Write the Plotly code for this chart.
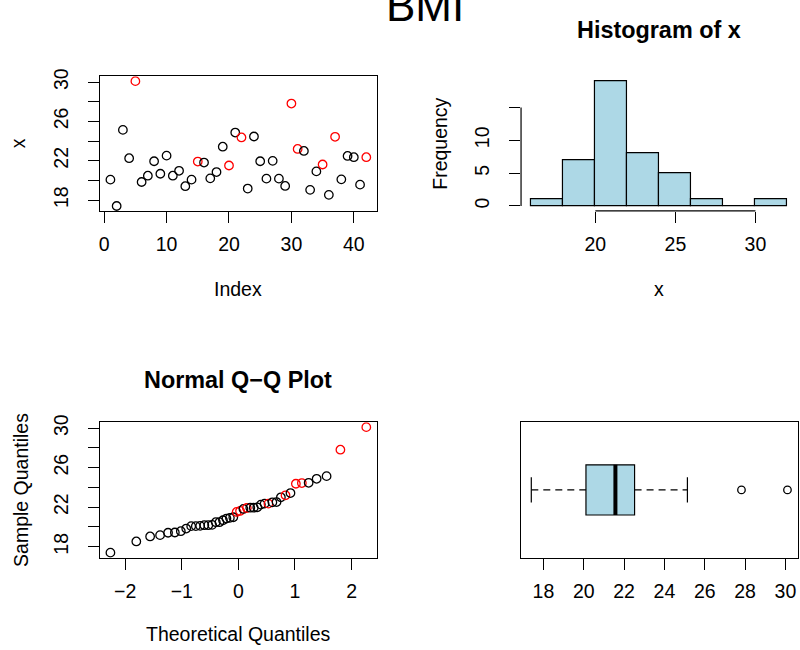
import numpy as np
import plotly.graph_objects as go
from statistics import NormalDist

# BMI measurements in recorded order
bmi = [20.08, 17.40, 25.14, 22.26, 30.10, 19.84, 20.48, 21.95, 20.68, 22.52,
       20.48, 20.98, 19.41, 20.08, 21.92, 21.82, 20.21, 20.85, 23.43, 21.52,
       24.87, 24.37, 19.17, 24.47, 21.95, 20.18, 21.99, 20.18, 19.44, 27.82,
       23.20, 23.00, 19.04, 20.92, 21.62, 18.53, 24.44, 20.11, 22.49, 22.36,
       19.57, 22.36]
# 1-based positions of the observations highlighted in red
flagged = [5, 15, 20, 22, 30, 31, 35, 37, 42]

hist_breaks = [16, 18, 20, 22, 24, 26, 28, 30, 32]
index_ticks = [0, 10, 20, 30, 40]
value_ticks = [18, 20, 22, 24, 26, 28, 30]
value_labels = ["18", "", "22", "", "26", "", "30"]
hist_x_ticks = [20, 25, 30]
hist_y_ticks = [0, 5, 10, 15]
hist_y_labels = ["0", "5", "10", ""]
qq_x_ticks = [-2, -1, 0, 1, 2]
box_ticks = [18, 20, 22, 24, 26, 28, 30]

FONT = "Liberation Sans, Arial, sans-serif"
TXT = 19.5
LIGHTBLUE = "#ADD8E6"
W, H = 800, 650


def r_range(lo, hi):
    d = (hi - lo) * 0.04
    return [lo - d, hi + d]


def fivenum(v):
    s = sorted(v)
    n = len(s)
    n4 = np.floor((n + 3) / 2) / 2
    d = [1, n4, (n + 1) / 2, n + 1 - n4, n]
    return [0.5 * (s[int(np.floor(k)) - 1] + s[int(np.ceil(k)) - 1]) for k in d]


x = np.array(bmi)
n = len(x)
idx = np.arange(1, n + 1)
colors = np.array(["red" if i in flagged else "black" for i in idx])

# histogram counts with right-closed bins
counts = np.zeros(len(hist_breaks) - 1, dtype=int)
for v in x:
    for j in range(len(hist_breaks) - 1):
        lo, hi = hist_breaks[j], hist_breaks[j + 1]
        if (lo < v <= hi) or (j == 0 and v == lo):
            counts[j] += 1
            break
mids = [(hist_breaks[j] + hist_breaks[j + 1]) / 2 for j in range(len(counts))]
widths = [hist_breaks[j + 1] - hist_breaks[j] for j in range(len(counts))]

# normal quantiles
order = np.argsort(x, kind="stable")
pp = [(i - 0.5) / n for i in range(1, n + 1)]
theo = np.array([NormalDist().inv_cdf(p) for p in pp])
samp = x[order]
qq_colors = colors[order]

# boxplot statistics
mn, q1, med, q3, mx = fivenum(bmi)
iqr = q3 - q1
inside = x[(x >= q1 - 1.5 * iqr) & (x <= q3 + 1.5 * iqr)]
w_lo, w_hi = inside.min(), inside.max()
outl = x[(x < q1 - 1.5 * iqr) | (x > q3 + 1.5 * iqr)]

# plot regions in pixels (left, right, top, bottom)
P1 = (99.3, 376.0, 69.0, 205.5)
P2 = (520.7, 797.7, 69.0, 205.5)
P3 = (99.3, 376.0, 419.3, 556.5)
P4 = (520.7, 797.7, 419.3, 556.5)


def xdom(p):
    return [p[0] / W, p[1] / W]


def ydom(p):
    return [1 - p[3] / H, 1 - p[2] / H]


fig = go.Figure()

marker_pts = dict(symbol="circle-open", size=8.5, line=dict(width=1.3))

fig.add_trace(go.Scatter(x=idx, y=x, mode="markers", xaxis="x", yaxis="y",
                         marker=dict(color=list(colors), **marker_pts),
                         showlegend=False, hoverinfo="skip"))
fig.add_trace(go.Bar(x=mids, y=counts, width=widths, xaxis="x2", yaxis="y2",
                     marker=dict(color=LIGHTBLUE, line=dict(color="black", width=1.2)),
                     showlegend=False, hoverinfo="skip"))
fig.add_trace(go.Scatter(x=theo, y=samp, mode="markers", xaxis="x3", yaxis="y3",
                         marker=dict(color=list(qq_colors), **marker_pts),
                         showlegend=False, hoverinfo="skip"))
fig.add_trace(go.Scatter(x=outl, y=[1] * len(outl), mode="markers", xaxis="x4", yaxis="y4",
                         marker=dict(color="black", symbol="circle-open", size=7.5,
                                     line=dict(width=1.3)),
                         showlegend=False, hoverinfo="skip"))

shapes = []
# histogram axis lines spanning the tick range
shapes.append(dict(type="line", xref="x2", yref="y2 domain", x0=hist_x_ticks[0], x1=hist_x_ticks[-1],
                   y0=0, y1=0, line=dict(color="black", width=1.2)))
shapes.append(dict(type="line", xref="x2 domain", yref="y2", x0=0, x1=0,
                   y0=hist_y_ticks[0], y1=hist_y_ticks[-1], line=dict(color="black", width=1.2)))
# boxplot
shapes.append(dict(type="rect", xref="x4", yref="y4", x0=q1, x1=q3, y0=0.8, y1=1.2,
                   fillcolor=LIGHTBLUE, line=dict(color="black", width=1.2), layer="below"))
shapes.append(dict(type="line", xref="x4", yref="y4", x0=med, x1=med, y0=0.8, y1=1.2,
                   line=dict(color="black", width=4)))
for a, b in [(w_lo, q1), (q3, w_hi)]:
    shapes.append(dict(type="line", xref="x4", yref="y4", x0=a, x1=b, y0=1, y1=1,
                       line=dict(color="black", width=1.2, dash="7px,5px")))
for w in [w_lo, w_hi]:
    shapes.append(dict(type="line", xref="x4", yref="y4", x0=w, x1=w, y0=0.9, y1=1.1,
                       line=dict(color="black", width=1.2)))

tickfont = dict(family=FONT, size=TXT, color="black")
base = dict(showgrid=False, zeroline=False, ticks="outside", ticklen=11, tickwidth=1.2,
            tickcolor="black", tickfont=tickfont, linecolor="black", linewidth=1.2)
XSTAND = 5
YSTAND = 12

boxed = dict(showline=True, mirror=True)

fig.update_layout(
    width=W, height=H, margin=dict(l=0, r=0, t=0, b=0),
    paper_bgcolor="white", plot_bgcolor="white", bargap=0,
    font=dict(family=FONT, size=TXT, color="black"),
    xaxis=dict(domain=xdom(P1), anchor="y", range=r_range(1, n), tickvals=index_ticks,
               ticklabelstandoff=XSTAND, **boxed, **base),
    yaxis=dict(domain=ydom(P1), anchor="x", range=r_range(x.min(), x.max()),
               tickvals=value_ticks, ticktext=value_labels, tickangle=-90,
               ticklabelstandoff=YSTAND, **boxed, **base),
    xaxis2=dict(domain=xdom(P2), anchor="y2", range=r_range(hist_breaks[0], hist_breaks[-1]),
                tickvals=hist_x_ticks, ticklabelstandoff=XSTAND, showline=False, **base),
    yaxis2=dict(domain=ydom(P2), anchor="x2", range=r_range(0, counts.max()),
                tickvals=hist_y_ticks, ticktext=hist_y_labels, tickangle=-90,
                ticklabelstandoff=YSTAND, showline=False, **base),
    xaxis3=dict(domain=xdom(P3), anchor="y3", range=r_range(theo.min(), theo.max()),
                tickvals=qq_x_ticks, ticktext=["\u22122", "\u22121", "0", "1", "2"],
                ticklabelstandoff=XSTAND, **boxed, **base),
    yaxis3=dict(domain=ydom(P3), anchor="x3", range=r_range(samp.min(), samp.max()),
                tickvals=value_ticks, ticktext=value_labels, tickangle=-90,
                ticklabelstandoff=YSTAND, **boxed, **base),
    xaxis4=dict(domain=xdom(P4), anchor="y4", range=r_range(x.min(), x.max()),
                tickvals=box_ticks, ticklabelstandoff=XSTAND, **boxed, **base),
    yaxis4=dict(domain=ydom(P4), anchor="x4", range=r_range(0.5, 1.5),
                showticklabels=False, **boxed,
                **{k: v for k, v in base.items() if k not in ("ticks",)}, ),
    shapes=shapes,
)
fig.update_yaxes(ticks="", selector=dict(anchor="x4"))


def label(text, px, py, size=TXT, angle=0, bold=False):
    t = f"<b>{text}</b>" if bold else text
    fig.add_annotation(text=t, x=px / W, y=1 - py / H, xref="paper", yref="paper",
                       showarrow=False, textangle=angle, xanchor="center", yanchor="middle",
                       font=dict(family=FONT, size=size, color="black"))


label("BMI", 425, -3, size=44)
label("Index", 237.7, 285)
label("x", 17, 137, angle=-90)
label("Histogram of x", 659.2, 22, size=TXT * 1.2, bold=True)
label("x", 659.2, 284)
label("Frequency", 440, 137, angle=-90)
label("Normal Q\u2212Q Plot", 237.7, 377, size=TXT * 1.2, bold=True)
label("Theoretical Quantiles", 237.7, 634)
label("Sample Quantiles", 20, 488, angle=-90)

fig.write_html("out.html")
